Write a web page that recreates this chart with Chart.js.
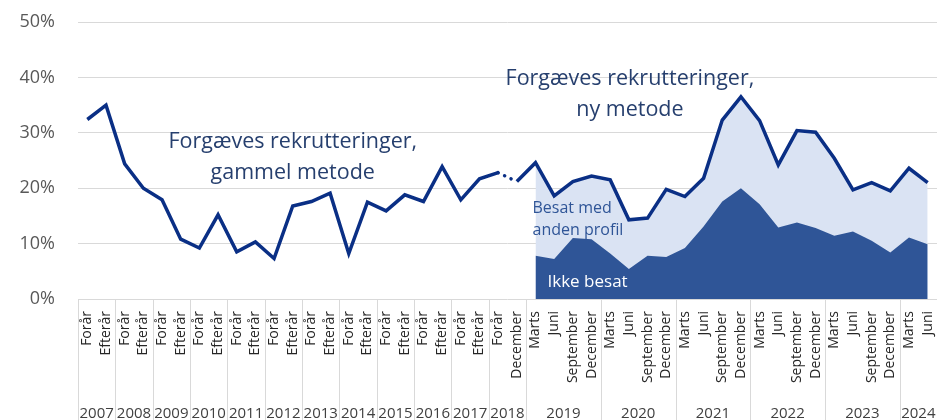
<!DOCTYPE html>
<html lang="da">
<head>
    <meta charset="UTF-8">
    <title>Forgæves rekrutteringer</title>
    <script src="https://cdn.jsdelivr.net/npm/chart.js"></script>
    <style>
        body {
            margin: 0;
            background-color: #fff;
        }

        .chart-container {
            position: relative;
            width: 937px;
            height: 420px;
        }
    </style>
</head>
<body>
    <div class="chart-container">
        <canvas id="rekrutChart"></canvas>
    </div>

    <script>
        // Perioder (x-akse)
        const periods = [
            'Forår', 'Efterår', 'Forår', 'Efterår', 'Forår', 'Efterår', 'Forår', 'Efterår',
            'Forår', 'Efterår', 'Forår', 'Efterår', 'Forår', 'Efterår', 'Forår', 'Efterår',
            'Forår', 'Efterår', 'Forår', 'Efterår', 'Forår', 'Efterår',
            'Forår', 'December',
            'Marts', 'Juni', 'September', 'December',
            'Marts', 'Juni', 'September', 'December',
            'Marts', 'Juni', 'September', 'December',
            'Marts', 'Juni', 'September', 'December',
            'Marts', 'Juni', 'September', 'December',
            'Marts', 'Juni'
        ];
        const years = ['2007', '2008', '2009', '2010', '2011', '2012', '2013', '2014', '2015',
                       '2016', '2017', '2018', '2019', '2020', '2021', '2022', '2023', '2024'];
        const periodsPerYear = [2, 2, 2, 2, 2, 2, 2, 2, 2, 2, 2, 2, 4, 4, 4, 4, 4, 2];

        // Forgæves rekrutteringer, gammel metode (2007 Forår - 2018 Forår), pct.
        const gammelMetode = [32.4, 35.0, 24.4, 20.0, 17.9, 10.8, 9.2, 15.2, 8.5, 10.3, 7.3, 16.8,
                              17.6, 19.1, 8.2, 17.5, 15.9, 18.8, 17.6, 23.9, 17.9, 21.7, 22.8];
        // Forgæves rekrutteringer, ny metode (2018 December - 2024 Juni), pct.
        const nyMetode = [21.2, 24.6, 18.6, 21.2, 22.2, 21.5, 14.3, 14.6, 19.8, 18.5, 21.8, 32.3,
                          36.5, 32.2, 24.2, 30.4, 30.1, 25.4, 19.7, 21.0, 19.5, 23.6, 21.0];
        // Ikke besat (2019 Marts - 2024 Juni), pct.
        const ikkeBesat = [7.8, 7.2, 11.0, 10.8, 8.2, 5.4, 7.8, 7.6, 9.2, 13.1, 17.6, 20.0,
                           17.1, 12.9, 13.8, 12.8, 11.4, 12.2, 10.5, 8.4, 11.1, 9.9];
        const yTicks = [0, 10, 20, 30, 40, 50];

        const FONT = '"Open Sans", "Noto Sans", sans-serif';
        const nOld = gammelMetode.length;
        const lineData = gammelMetode.concat(nyMetode);
        const areaStart = lineData.length - ikkeBesat.length;
        const lightArea = lineData.map((v, i) => i >= areaStart ? v : null);
        const darkArea = lineData.map((v, i) => i >= areaStart ? ikkeBesat[i - areaStart] : null);

        // years + separators under the month labels
        const yearAxis = {
            id: 'yearAxis',
            afterDraw(chart) {
                const { ctx, chartArea } = chart;
                const x = chart.scales.x;
                const half = (x.getPixelForValue(1) - x.getPixelForValue(0)) / 2;
                ctx.save();
                ctx.strokeStyle = '#d9d9d9';
                ctx.lineWidth = 1;
                ctx.fillStyle = '#404040';
                ctx.font = '15px ' + FONT;
                ctx.textAlign = 'center';
                ctx.textBaseline = 'alphabetic';
                let start = 0;
                years.forEach((yr, k) => {
                    const end = start + periodsPerYear[k] - 1;
                    const left = x.getPixelForValue(start) - half;
                    const right = x.getPixelForValue(end) + half;
                    const lx = Math.round(left) + 0.5;
                    ctx.beginPath();
                    ctx.moveTo(lx, chartArea.bottom);
                    ctx.lineTo(lx, chart.height);
                    ctx.stroke();
                    ctx.fillText(yr, (left + right) / 2, chart.height - 2);
                    start = end + 1;
                });
                ctx.restore();
            }
        };

        // text labels in the plot
        const notes = [
            { lines: ['Forgæves rekrutteringer,', 'gammel metode'], at: 11, dx: 0, value: 27.3,
              align: 'center', size: 21.5, gap: 31, color: '#263f6e' },
            { lines: ['Forgæves rekrutteringer,', 'ny metode'], at: 29, dx: 1, value: 38.6,
              align: 'center', size: 21.5, gap: 31, color: '#263f6e' },
            { lines: ['Besat med', 'anden profil'], at: areaStart, dx: -3, value: 15.5,
              align: 'left', size: 16, gap: 22, color: '#2f5597' },
            { lines: ['Ikke besat'], at: areaStart, dx: 12, value: 2.2,
              align: 'left', size: 17, gap: 0, color: '#ffffff' }
        ];
        const noteText = {
            id: 'noteText',
            afterDatasetsDraw(chart) {
                const { ctx } = chart;
                const x = chart.scales.x;
                const y = chart.scales.y;
                ctx.save();
                notes.forEach(n => {
                    ctx.font = n.size + 'px ' + FONT;
                    ctx.fillStyle = n.color;
                    ctx.textAlign = n.align;
                    ctx.textBaseline = 'alphabetic';
                    const px = x.getPixelForValue(n.at) + n.dx;
                    const py = y.getPixelForValue(n.value);
                    n.lines.forEach((t, i) => ctx.fillText(t, px, py + i * n.gap));
                });
                ctx.restore();
            }
        };

        const ctx = document.getElementById('rekrutChart').getContext('2d');
        const rekrutChart = new Chart(ctx, {
            type: 'line',
            data: {
                labels: periods,
                datasets: [
                    {
                        label: 'Forgæves rekrutteringer',
                        data: lineData,
                        borderColor: '#0a2f85',
                        borderWidth: 3.5,
                        borderJoinStyle: 'miter',
                        pointRadius: 0,
                        fill: false,
                        tension: 0,
                        order: 0,
                        segment: {
                            borderDash: c => c.p0DataIndex === nOld - 1 ? [0.1, 7] : undefined,
                            borderCapStyle: c => c.p0DataIndex === nOld - 1 ? 'round' : undefined
                        }
                    },
                    {
                        label: 'Ikke besat',
                        data: darkArea,
                        borderWidth: 0,
                        pointRadius: 0,
                        backgroundColor: '#2f5597',
                        fill: 'origin',
                        tension: 0,
                        order: 1
                    },
                    {
                        label: 'Besat med anden profil',
                        data: lightArea,
                        borderWidth: 0,
                        pointRadius: 0,
                        backgroundColor: '#dae3f3',
                        fill: 'origin',
                        tension: 0,
                        order: 2
                    }
                ]
            },
            options: {
                responsive: true,
                maintainAspectRatio: false,
                animation: false,
                layout: { padding: { top: 22, right: 0, left: 0, bottom: 0 } },
                plugins: {
                    legend: { display: false },
                    tooltip: { enabled: false }
                },
                scales: {
                    x: {
                        offset: true,
                        grid: { display: false, drawTicks: false },
                        border: { display: false },
                        ticks: {
                            autoSkip: false,
                            maxRotation: 90,
                            minRotation: 90,
                            padding: 12,
                            color: '#262626',
                            font: { family: FONT, size: 14 }
                        },
                        afterFit: scale => {
                            scale.height = 121;
                            scale.paddingLeft = 0;
                            scale.paddingRight = 0;
                        }
                    },
                    y: {
                        min: 0,
                        max: 50,
                        afterBuildTicks: scale => { scale.ticks = yTicks.map(v => ({ value: v })); },
                        grid: { color: '#d9d9d9', drawTicks: false },
                        border: { display: false },
                        ticks: {
                            padding: 23,
                            color: '#595959',
                            font: { family: FONT, size: 18 },
                            callback: v => v + '%'
                        },
                        afterFit: scale => {
                            scale.width = 78;
                            scale.paddingTop = 0;
                            scale.paddingBottom = 0;
                        }
                    }
                }
            },
            plugins: [yearAxis, noteText]
        });
    </script>
</body>
</html>
